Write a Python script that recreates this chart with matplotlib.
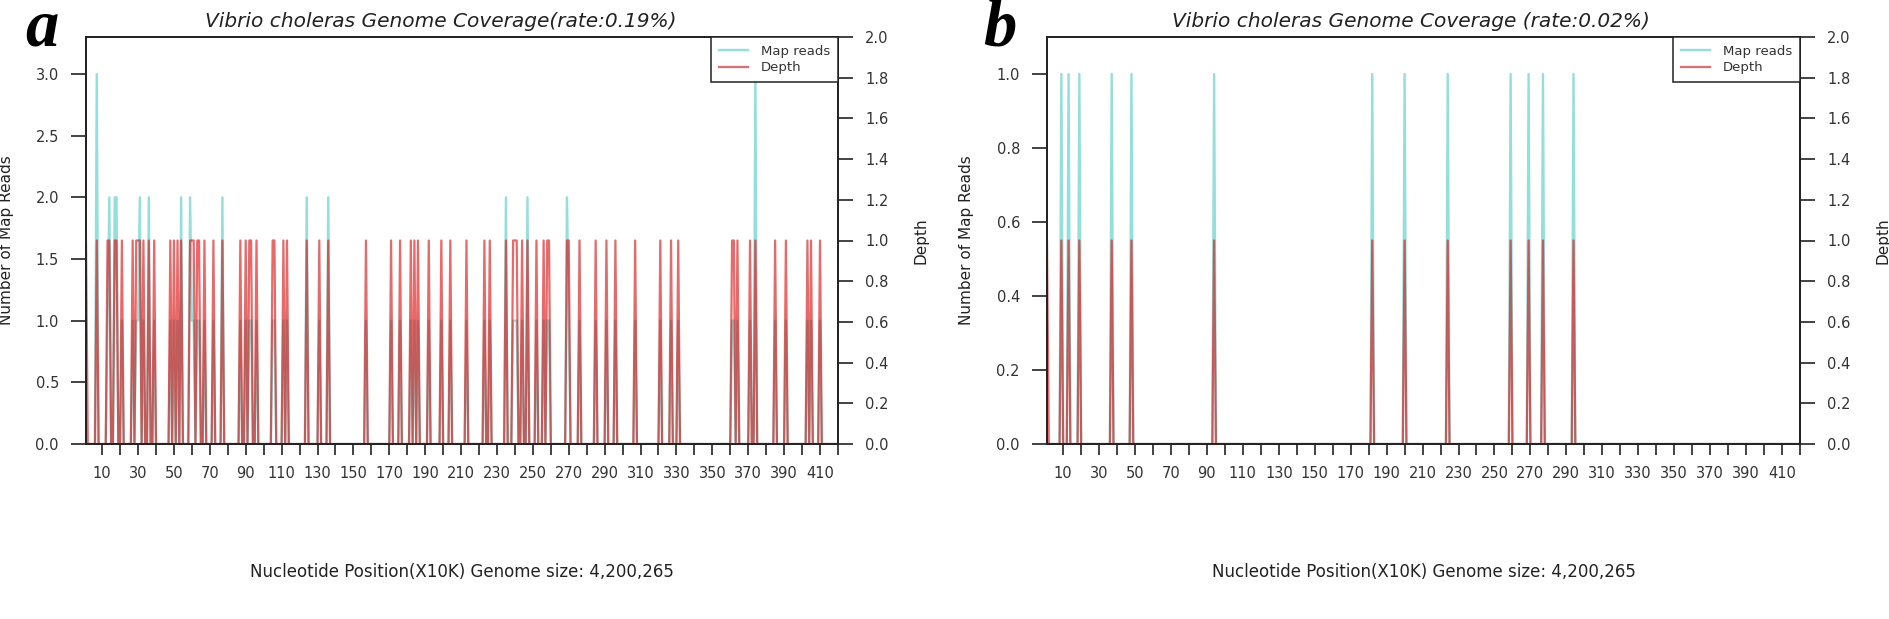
import numpy as np
import matplotlib
matplotlib.use("Agg")
import matplotlib.pyplot as plt

plt.rcParams["font.family"] = ["DejaVu Sans"]

# genome bins (X10K), 4,200,265 bp -> 420 bins
n_bins = 420

# panel a: bins with depth 1, and bins whose read count is above 1
depth_a_bins = [1, 7, 13, 14, 17, 18, 21, 27, 29, 30, 31, 33, 36, 39, 48, 50, 52, 54,
                59, 60, 61, 63, 64, 67, 72, 77, 87, 90, 92, 93, 96, 105, 106, 111, 113,
                124, 131, 136, 157, 171, 176, 182, 184, 186, 192, 199, 204, 213, 223,
                226, 235, 239, 240, 241, 244, 247, 252, 256, 258, 259, 269, 270, 276,
                285, 291, 296, 307, 321, 327, 331, 361, 362, 364, 371, 374, 385, 391,
                403, 405, 410]
reads_a_high = {7: 3, 14: 2, 17: 2, 18: 2, 31: 2, 36: 2, 54: 2, 59: 2, 77: 2,
                124: 2, 136: 2, 235: 2, 247: 2, 269: 2, 374: 3}

# panel b
depth_b_bins = [1, 9, 13, 19, 37, 48, 94, 182, 200, 224, 259, 269, 277, 294]
reads_b_high = {}

titles = ["Vibrio choleras Genome Coverage(rate:0.19%)",
          "Vibrio choleras Genome Coverage (rate:0.02%)"]
panel_tags = ["a", "b"]
reads_ylim = [3.3, 1.1]
reads_yticks = [np.arange(0, 3.01, 0.5), np.arange(0, 1.01, 0.2)]
depth_yticks = np.arange(0, 2.01, 0.2)
xlabel = "Nucleotide Position(X10K) Genome size: 4,200,265"

CYAN = "#93DFDB"
RED = (0.85, 0.05, 0.05, 0.62)


def build_series(depth_bins, reads_high):
    depth = np.zeros(n_bins)
    reads = np.zeros(n_bins)
    for b in depth_bins:
        depth[b - 1] = 1
        if b > 1:
            reads[b - 1] = 1
    for b, v in reads_high.items():
        reads[b - 1] = v
    return depth, reads


fig = plt.figure(figsize=(18.9, 6.19), dpi=100)
W, H = 1890, 619
boxes = [(86, 838), (1047, 1800)]
top_px, bot_px = 37, 444
ax_h = bot_px - top_px

series = [build_series(depth_a_bins, reads_a_high),
          build_series(depth_b_bins, reads_b_high)]
tag_x = [25, 983]
title_x = [441, 1411]

x = np.arange(1, n_bins + 1)
for i in range(2):
    l, r = boxes[i]
    ax = fig.add_axes([l / W, 1 - bot_px / H, (r - l) / W, ax_h / H])
    depth, reads = series[i]
    ax.plot(x, reads, color=CYAN, lw=1.7, label="Map reads")
    ax.set_xlim(1, 420.03)
    ax.set_ylim(0, reads_ylim[i])
    ax.set_yticks(reads_yticks[i])
    ax.set_yticklabels([f"{v:.1f}" for v in reads_yticks[i]])
    xt = list(range(10, 421, 10))
    ax.set_xticks(xt)
    ax.set_xticklabels([str(v) if (v - 10) % 20 == 0 and v < 420 else "" for v in xt])
    ax.tick_params(axis="y", direction="out", length=11, width=1.2, labelsize=10.5,
                   pad=8.5, colors="#222222", labelcolor="#333333")
    ax.tick_params(axis="x", direction="out", length=8, width=1.2, labelsize=10.5,
                   pad=8, colors="#222222", labelcolor="#333333")
    ax.set_ylabel("Number of Map Reads", fontsize=11, color="#222222")
    ax.yaxis.set_label_coords(-(l - 14) / (r - l) if i == 0 else -73 / (r - l), 0.5)
    ax.set_xlabel(xlabel, fontsize=12, color="#222222")
    ax.xaxis.set_label_coords(0.5, -(572 - bot_px) / ax_h)
    ax.xaxis.label.set_va("center")
    for s in ax.spines.values():
        s.set_linewidth(1.3)
        s.set_color("#222222")

    ax2 = ax.twinx()
    ax2.plot(x, depth, color=RED, lw=1.6, label="Depth")
    ax2.set_ylim(0, 2)
    ax2.set_yticks(depth_yticks)
    ax2.set_yticklabels([f"{v:.1f}" for v in depth_yticks])
    ax2.tick_params(axis="y", direction="out", length=11, width=1.2, labelsize=10.5,
                    pad=8.5, colors="#222222", labelcolor="#333333")
    ax2.set_ylabel("Depth", fontsize=11, color="#222222")
    ax2.yaxis.set_label_coords(1 + 76 / (r - l), 0.5)
    for s in ax2.spines.values():
        s.set_linewidth(1.3)
        s.set_color("#222222")

    h1, lab1 = ax.get_legend_handles_labels()
    h2, lab2 = ax2.get_legend_handles_labels()
    leg = ax2.legend(h1 + h2, lab1 + lab2, loc="upper right", fontsize=9.5,
                     frameon=True, fancybox=False, framealpha=1, edgecolor="#222222",
                     borderaxespad=0, handlelength=2.2, borderpad=0.6,
                     labelspacing=0.25, handletextpad=1.0)
    leg.get_frame().set_linewidth(1.1)
    for t in leg.get_texts():
        t.set_color("#333333")

    fig.text(title_x[i] / W, 1 - 27 / H, titles[i], fontsize=14.5, style="italic",
             ha="center", va="baseline", color="#222222")
    fig.text(tag_x[i] / W, 1 - 46 / H, panel_tags[i], fontsize=48, fontweight="bold",
             style="italic", family="Liberation Serif", ha="left", va="baseline")

fig.savefig("out.png", dpi=100)
